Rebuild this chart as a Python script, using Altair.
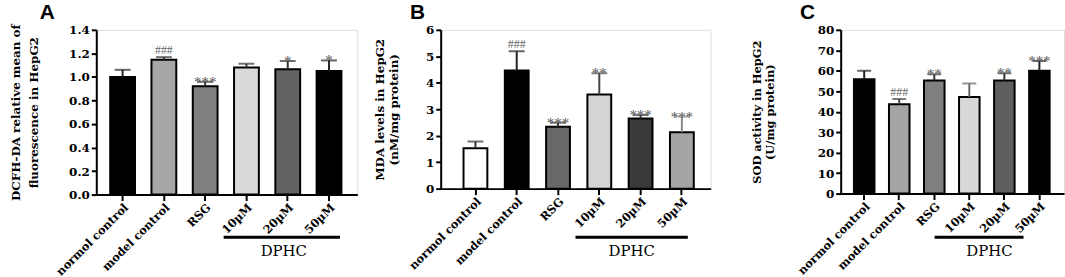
import altair as alt
import pandas as pd

groups = ["normol control", "model control", "RSG", "10µM", "20µM", "50µM"]

# Panel A
a_mean = [1.00, 1.145, 0.92, 1.08, 1.065, 1.05]
a_upper = [1.06, 1.168, 0.958, 1.112, 1.135, 1.14]
a_fill = ["#000000", "#a7a7a7", "#7f7f7f", "#d9d9d9", "#626262", "#000000"]
a_errc = ["#222222", "#333333", "#333333", "#333333", "#333333", "#222222"]
a_sig = ["", "###", "***", "", "*", "*"]
a_ticks = [0.0, 0.2, 0.4, 0.6, 0.8, 1.0, 1.2, 1.4]
a_title = ["DCFH-DA relative mean of", "fluorescence in HepG2"]

# Panel B
b_mean = [1.53, 4.46, 2.34, 3.56, 2.65, 2.13]
b_upper = [1.78, 5.19, 2.49, 4.36, 2.78, 2.72]
b_fill = ["#ffffff", "#000000", "#686868", "#d4d4d4", "#3a3a3a", "#a5a5a5"]
b_errc = ["#333333", "#222222", "#333333", "#444444", "#333333", "#888888"]
b_sig = ["", "###", "***", "**", "***", "***"]
b_ticks = [0, 1, 2, 3, 4, 5, 6]
b_title = ["MDA levels in  HepG2", "(nM/mg protein)"]

# Panel C
c_mean = [55.9, 43.6, 55.3, 47.2, 55.3, 60.0]
c_upper = [60.0, 46.2, 58.3, 53.8, 58.8, 64.8]
c_fill = ["#000000", "#a4a4a4", "#7f7f7f", "#d8d8d8", "#5e5e5e", "#000000"]
c_errc = ["#222222", "#444444", "#333333", "#666666", "#333333", "#222222"]
c_sig = ["", "###", "**", "", "**", "***"]
c_ticks = [0, 10, 20, 30, 40, 50, 60, 70, 80]
c_title = ["SOD activity in HepG2", "(U/mg protein)"]

dphc = pd.DataFrame({"start": ["10µM"], "end": ["50µM"], "mid": ["20µM"], "label": ["DPHC"]})

SERIF = "DejaVu Serif"
SANS = "Liberation Sans"


def panel(mean, upper, fill, errc, sig, ticks, ytitle, letter, fmt,
          width, height, pi, po, al, letter_dx, title_size, title_lh, title_pad,
          line_off, text_dx, cap, spacer=None):
    df = pd.DataFrame({"group": groups, "mean": mean, "upper": upper,
                       "fill": fill, "err": errc, "sig": sig})
    xscale = alt.Scale(domain=groups, paddingInner=pi, paddingOuter=po, align=al)
    xaxis = alt.Axis(title=None, labelAngle=-45, labelAlign="right", labelBaseline="top",
                     labelFont=SERIF, labelFontSize=11.5, labelFontWeight="bold",
                     labelColor="black", domainColor="black", domainWidth=2,
                     tickColor="black", tickWidth=2, tickSize=6, labelPadding=1,
                     labelOverlap=False)
    yscale = alt.Scale(domain=[ticks[0], ticks[-1]], nice=False, zero=True)
    yaxis = alt.Axis(title=ytitle, values=ticks, format=fmt, grid=False,
                     labelFont=SERIF, labelFontSize=12, labelFontWeight="bold",
                     labelColor="black", domainColor="black", domainWidth=2,
                     tickColor="black", tickWidth=2, tickSize=5, labelPadding=2,
                     labelOverlap=False, labelFlush=False, labelBound=False,
                     titleFont=SERIF, titleFontSize=title_size, titleFontWeight="bold",
                     titleColor="black", titleLineHeight=title_lh, titlePadding=title_pad)

    def X(field):
        return alt.X(field, scale=xscale, axis=xaxis)

    def Y(field):
        return alt.Y(field, scale=yscale, axis=yaxis)

    base = alt.Chart(df)
    bars = base.mark_bar(stroke="black", strokeWidth=2).encode(
        x=X("group:N"), y=Y("mean:Q"), color=alt.Color("fill:N", scale=None),
    )
    err = base.mark_rule(strokeWidth=2).encode(
        x=X("group:N"), y=Y("mean:Q"), y2="upper:Q",
        color=alt.Color("err:N", scale=None),
    )
    caps = base.mark_tick(thickness=2, size=cap).encode(
        x=X("group:N"), y=Y("upper:Q"), color=alt.Color("err:N", scale=None),
    )
    hashes = base.transform_filter(alt.datum.sig == "###").mark_text(
        font="Liberation Serif", fontSize=12, color="#666666", baseline="alphabetic", dy=-3
    ).encode(x=X("group:N"), y=Y("upper:Q"), text="sig:N")
    stars = base.transform_filter("indexof(datum.sig, '*') >= 0").mark_text(
        font="Liberation Serif", fontSize=15, color="#555555", baseline="alphabetic", dy=5
    ).encode(x=X("group:N"), y=Y("upper:Q"), text="sig:N")
    line = alt.Chart(dphc).mark_rule(
        color="black", strokeWidth=3, xOffset=line_off[0], x2Offset=line_off[1]
    ).encode(x=X("start:N"), x2="end:N", y=alt.value(209))
    lab = alt.Chart(dphc).mark_text(
        font=SERIF, fontSize=15, color="black", dx=text_dx, baseline="middle"
    ).encode(x=X("mid:N"), y=alt.value(223), text="label:N")
    layers = [bars, err, caps, hashes, stars, line, lab]
    if spacer is not None:
        sp = alt.Chart(dphc).mark_rule(strokeOpacity=0).encode(
            x=alt.value(width + spacer), y=alt.value(0), y2=alt.value(1))
        layers.append(sp)
    return alt.layer(*layers).properties(
        width=width, height=height,
        title=alt.TitleParams(letter, anchor="start", frame="group", dx=letter_dx,
                              font=SANS, fontSize=21, fontWeight="bold", color="black",
                              offset=1),
    )


pa = panel(a_mean, a_upper, a_fill, a_errc, a_sig, a_ticks, a_title, "A", ".1f",
           263, 166, 0.399, 0.361, 0.467, -57, 12, 18, 28, (-23, 11), -4, 16)
pb = panel(b_mean, b_upper, b_fill, b_errc, b_sig, b_ticks, b_title, "B", "d",
           272, 160, 0.423, 0.481, 0.575, -31, 12, 14, 25, (-24, 6), -9, 16, spacer=24)
pc = panel(c_mean, c_upper, c_fill, c_errc, c_sig, c_ticks, c_title, "C", "d",
           225, 165, 0.414, 0.394, 0.48, -41, 11.5, 13, 42, (-35, -16), -15, 14)

chart = alt.hconcat(pa, pb, pc, spacing=15).properties(
    padding={"left": 9, "top": 0, "right": 0, "bottom": 0}
).configure_view(stroke=None).configure(background="white")

chart.save("out.html", embed_options={"renderer": "svg", "actions": False})
